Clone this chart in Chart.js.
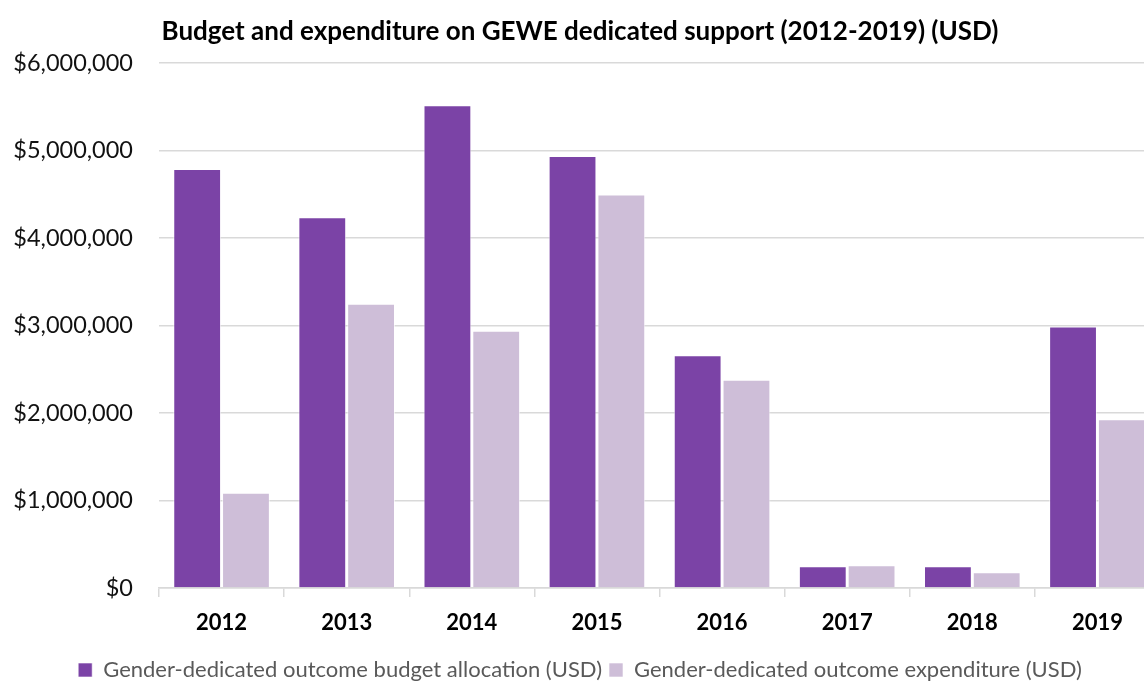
<!DOCTYPE html>
<html>
<head>
<meta charset="utf-8">
<script src="https://cdn.jsdelivr.net/npm/chart.js@4/dist/chart.umd.min.js"></script>
<style>
  html, body { margin: 0; padding: 0; background: #fff; overflow: hidden; }
  #wrap { width: 1172px; height: 681px; }
</style>
</head>
<body>
<div id="wrap"><canvas id="gewe" width="1172" height="681"></canvas></div>
<script>
// === Số liệu
const years = ["2012", "2013", "2014", "2015", "2016", "2017", "2018", "2019"];
const budgetAllocation = [4790000, 4240000, 5520000, 4940000, 2660000, 250000, 250000, 2990000];
const expenditure = [1090000, 3250000, 2940000, 4500000, 2380000, 260000, 180000, 1930000];
const yTicks = [0, 1000000, 2000000, 3000000, 4000000, 5000000, 6000000];

const FONT = "Lato, 'Open Sans', sans-serif";

// === Biểu đồ cột
const ctx = document.getElementById("gewe").getContext("2d");
new Chart(ctx, {
  type: "bar",
  data: {
    labels: years,
    datasets: [
      {
        label: "Gender-dedicated outcome budget allocation (USD)",
        data: budgetAllocation,
        backgroundColor: "#7b43a6",
        borderColor: "rgba(255,255,255,0.6)",
        borderWidth: 1,
        categoryPercentage: 0.78,
        barPercentage: 0.98,
      },
      {
        label: "Gender-dedicated outcome expenditure (USD)",
        data: expenditure,
        backgroundColor: "#cebed8",
        borderColor: "rgba(255,255,255,0.6)",
        borderWidth: 1,
        categoryPercentage: 0.78,
        barPercentage: 0.98,
      },
    ],
  },
  options: {
    responsive: false,
    animation: false,
    layout: { padding: { top: 6, right: 12, left: 0, bottom: -10 } },
    plugins: {
      title: {
        display: true,
        text: "Budget and expenditure on GEWE dedicated support (2012-2019) (USD)",
        color: "#000",
        font: { family: FONT, size: 26, weight: "bold" },
        padding: { top: 10, bottom: 16 },
      },
      legend: {
        position: "bottom",
        labels: {
          color: "#595959",
          font: { family: FONT, size: 22 },
          boxWidth: 14,
          boxHeight: 14,
          padding: 7,
        },
      },
      tooltip: { enabled: false },
    },
    scales: {
      x: {
        afterFit: (scale) => {
          scale.height = 64;
        },
        grid: {
          offset: true,
          drawOnChartArea: false,
          tickLength: 9,
          color: "#d9d9d9",
          lineWidth: 1.5,
        },
        border: { color: "#d9d9d9", width: 1.5 },
        ticks: {
          color: "#000",
          font: { family: FONT, size: 22, weight: "bold" },
          padding: 13,
        },
      },
      y: {
        min: 0,
        max: 6000000,
        afterBuildTicks: (scale) => {
          scale.ticks = yTicks.map((v) => ({ value: v }));
        },
        afterFit: (scale) => {
          scale.width = 159;
        },
        grid: { color: "#d9d9d9", lineWidth: 1.5, drawTicks: false },
        border: { display: false },
        ticks: {
          color: "#111",
          font: { family: FONT, size: 23.5 },
          padding: 26,
          callback: (v) => "$" + Number(v).toLocaleString("en-US"),
        },
      },
    },
  },
});
</script>
</body>
</html>
